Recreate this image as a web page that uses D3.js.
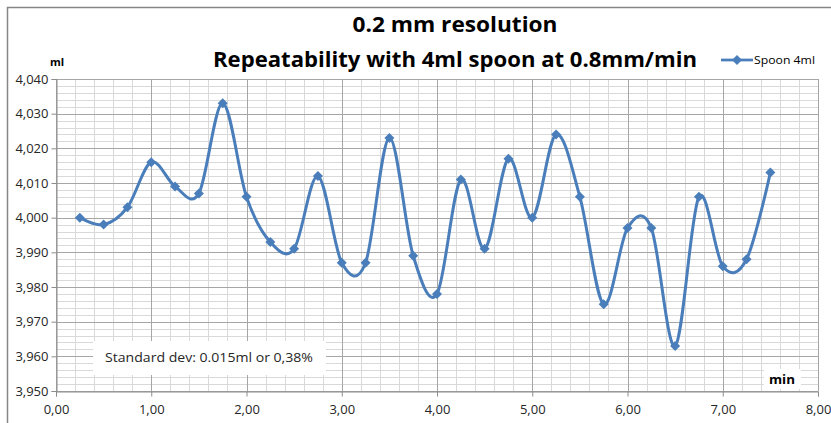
<!DOCTYPE html>
<html>
<head>
<meta charset="utf-8">
<script src="https://cdn.jsdelivr.net/npm/d3@7"></script>
<style>
  html, body { margin: 0; padding: 0; background: #fff; }
  svg { display: block; }
  text { font-family: "Open Sans", "Liberation Sans", sans-serif; }
</style>
</head>
<body>
<svg id="chart" width="831" height="423"></svg>
<script>
// ---- data ----
const times = [0.25, 0.5, 0.75, 1.0, 1.25, 1.5, 1.75, 2.0, 2.25, 2.5, 2.75, 3.0, 3.25, 3.5, 3.75,
               4.0, 4.25, 4.5, 4.75, 5.0, 5.25, 5.5, 5.75, 6.0, 6.25, 6.5, 6.75, 7.0, 7.25, 7.5];
const spoon4ml = [4.000, 3.998, 4.003, 4.016, 4.009, 4.007, 4.033, 4.006, 3.993, 3.991, 4.012, 3.987, 3.987, 4.023, 3.989,
                  3.978, 4.011, 3.991, 4.017, 4.000, 4.024, 4.006, 3.975, 3.997, 3.997, 3.963, 4.006, 3.986, 3.988, 4.013];
const xTicks = [0, 1, 2, 3, 4, 5, 6, 7, 8];
const yTicks = [3.95, 3.96, 3.97, 3.98, 3.99, 4.00, 4.01, 4.02, 4.03, 4.04];
const titleLines = ["0.2 mm resolution", "Repeatability with 4ml spoon at 0.8mm/min"];
const seriesName = "Spoon 4ml";
const yUnit = "ml";
const xUnit = "min";
const note = "Standard dev: 0.015ml or 0,38%";

// ---- layout ----
const svg = d3.select("#chart");
const plot = { left: 56, right: 818, top: 79, bottom: 391 };
const x = d3.scaleLinear().domain([0, 8]).range([plot.left, plot.right]);
const y = d3.scaleLinear().domain([3.95, 4.04]).range([plot.bottom, plot.top]);
const blue = "#4A7EBB";
const fmt = v => d3.format(",.2f")(v).replace(".", ",");
const fmtY = v => d3.format(".3f")(v).replace(".", ",");

// outer chart border (only top/left visible in frame)
svg.append("rect").attr("x", 7.5).attr("y", 7.5).attr("width", 840).attr("height", 440)
  .attr("fill", "#fff").attr("stroke", "#868686").attr("stroke-width", 1.5);

// minor grid
const g = svg.append("g");
const minorY = d3.range(3.95, 4.0401, 0.002).map(v => +v.toFixed(3));
const minorX = d3.range(0, 8.001, 0.2).map(v => +v.toFixed(1));
g.selectAll(".mh").data(minorY).join("line")
  .attr("x1", plot.left).attr("x2", plot.right)
  .attr("y1", d => Math.round(y(d)) + 0.5).attr("y2", d => Math.round(y(d)) + 0.5)
  .attr("stroke", "#d9d9d9").attr("stroke-width", 1);
g.selectAll(".mv").data(minorX).join("line")
  .attr("y1", plot.top).attr("y2", plot.bottom)
  .attr("x1", d => Math.round(x(d)) + 0.5).attr("x2", d => Math.round(x(d)) + 0.5)
  .attr("stroke", "#d9d9d9").attr("stroke-width", 1);
// major grid
g.selectAll(".Mh").data(yTicks).join("line")
  .attr("x1", plot.left).attr("x2", plot.right)
  .attr("y1", d => Math.round(y(d)) + 0.5).attr("y2", d => Math.round(y(d)) + 0.5)
  .attr("stroke", "#a6a6a6").attr("stroke-width", 1);
g.selectAll(".Mv").data(xTicks).join("line")
  .attr("y1", plot.top).attr("y2", plot.bottom)
  .attr("x1", d => Math.round(x(d)) + 0.5).attr("x2", d => Math.round(x(d)) + 0.5)
  .attr("stroke", "#a6a6a6").attr("stroke-width", 1);

// axes
const yAxis = d3.axisLeft(y).tickValues(yTicks).tickFormat(fmtY).tickSize(5).tickPadding(3);
const xAxis = d3.axisBottom(x).tickValues(xTicks).tickFormat(fmt).tickSize(5).tickPadding(8);
const ya = svg.append("g").attr("transform", `translate(${plot.left + 0.5},0)`).call(yAxis);
const xa = svg.append("g").attr("transform", `translate(0,${plot.bottom + 0.5})`).call(xAxis);
[ya, xa].forEach(a => {
  a.select(".domain").attr("stroke", "#8c8c8c");
  a.selectAll(".tick line").attr("stroke", "#8c8c8c");
  a.selectAll("text").attr("fill", "#262626").style("font-family", "'Open Sans', sans-serif").style("font-size", "13px");
});

// series line
const line = d3.line().x((d, i) => x(times[i])).y(d => y(d)).curve(d3.curveCatmullRom.alpha(0));
svg.append("path").datum(spoon4ml).attr("d", line)
  .attr("fill", "none").attr("stroke", blue).attr("stroke-width", 3);
const diamond = d3.symbol().type(d3.symbolSquare).size(50);
svg.selectAll(".pt").data(spoon4ml).join("path")
  .attr("d", diamond)
  .attr("transform", (d, i) => `translate(${x(times[i])},${y(d)}) rotate(45)`)
  .attr("fill", blue);

// title
svg.append("text").attr("x", 455).attr("y", 32).attr("text-anchor", "middle")
  .attr("font-weight", "bold").attr("font-size", 22).attr("fill", "#000")
  .attr("textLength", 205).attr("lengthAdjust", "spacingAndGlyphs").text(titleLines[0]);
svg.append("text").attr("x", 455).attr("y", 67).attr("text-anchor", "middle")
  .attr("font-weight", "bold").attr("font-size", 22).attr("fill", "#000")
  .attr("textLength", 484).attr("lengthAdjust", "spacingAndGlyphs").text(titleLines[1]);

// legend
const lg = svg.append("g");
lg.append("line").attr("x1", 721).attr("x2", 753).attr("y1", 60).attr("y2", 60)
  .attr("stroke", blue).attr("stroke-width", 2.75);
lg.append("path").attr("d", diamond).attr("transform", "translate(737,60) rotate(45)").attr("fill", blue);
lg.append("text").attr("x", 754).attr("y", 64).attr("font-size", 11.5).attr("fill", "#000")
  .attr("textLength", 61).attr("lengthAdjust", "spacingAndGlyphs").text(seriesName);

// unit labels
svg.append("text").attr("x", 50).attr("y", 66).attr("font-weight", "bold").attr("font-size", 11).text(yUnit);
svg.append("rect").attr("x", 764).attr("y", 369).attr("width", 37).attr("height", 20).attr("fill", "#fff");
svg.append("text").attr("x", 769).attr("y", 384).attr("font-weight", "bold").attr("font-size", 11.5)
  .attr("textLength", 26).attr("lengthAdjust", "spacingAndGlyphs").text(xUnit);

// note box
svg.append("rect").attr("x", 93).attr("y", 341).attr("width", 233).attr("height", 34).attr("fill", "#fff");
svg.append("text").attr("x", 105).attr("y", 362).attr("font-size", 13.5).attr("fill", "#262626")
  .attr("textLength", 208).attr("lengthAdjust", "spacingAndGlyphs").text(note);
</script>
</body>
</html>
